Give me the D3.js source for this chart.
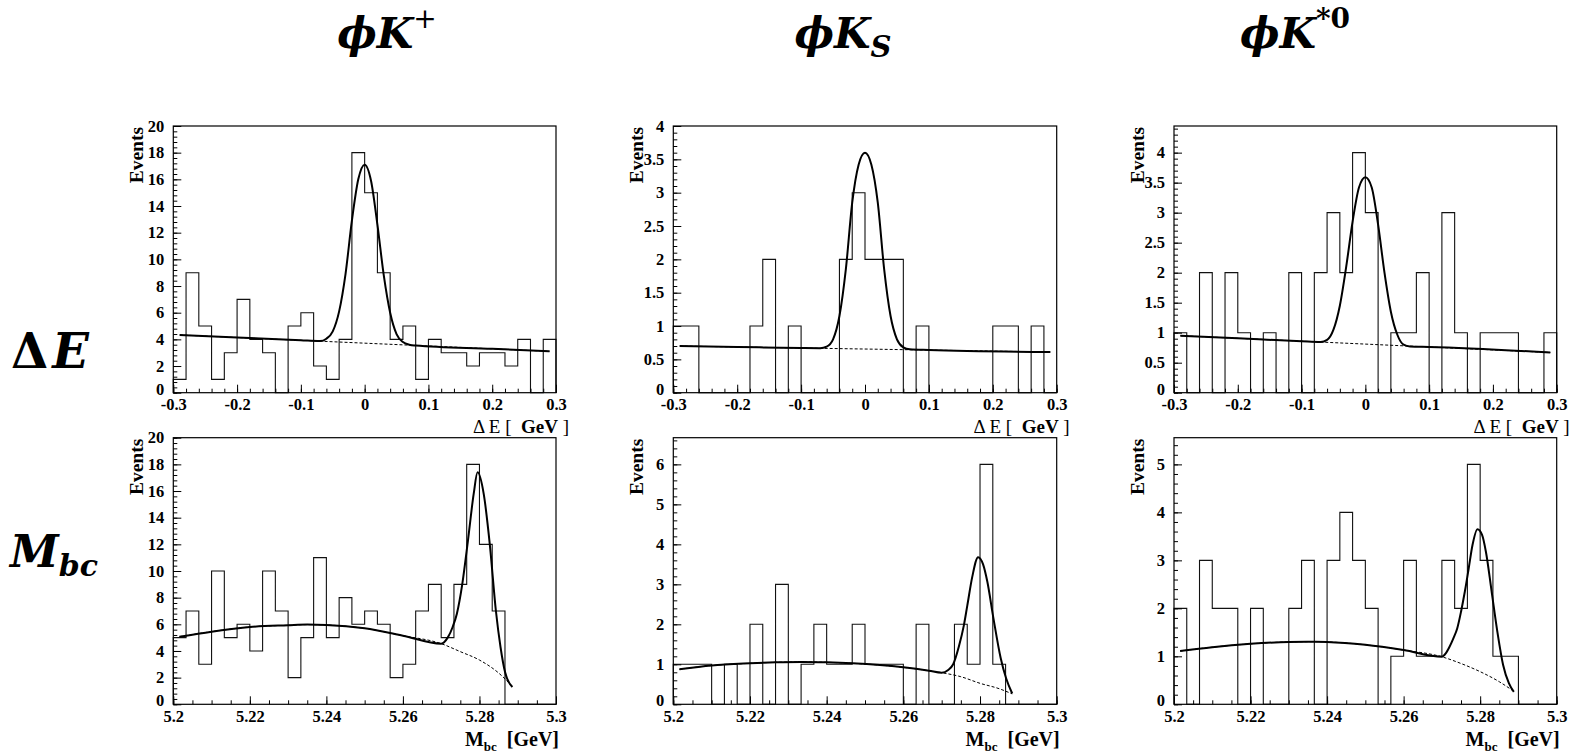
<!DOCTYPE html>
<html><head><meta charset="utf-8">
<script src="https://cdn.jsdelivr.net/npm/d3@7"></script>
<style>
body{margin:0;background:#fff;}
svg{display:block;}
text{font-family:"Liberation Serif","Times New Roman",serif;}
text.math{font-family:"DejaVu Serif",serif;}
</style></head><body>
<svg id="c" width="1585" height="755"></svg>
<script>
// ---------------- data ----------------
const deTicks  = [-0.3,-0.2,-0.1,0,0.1,0.2,0.3];
const mbcTicks = [5.2,5.22,5.24,5.26,5.28,5.3];
const deRange  = [-0.3,0.3];
const mbcRange = [5.2,5.3];
const nBins = 30;

// histogram contents (30 bins each)
const kpDeCounts   = [1,9,5,1,3,7,4,3,0,5,6,2,1,4,18,15,9,4,5,1,4,3,3,2,3,3,2,4,0,4];
const ksDeCounts   = [1,1,0,0,0,0,1,2,0,1,0,0,0,2,3,2,2,2,0,1,0,0,0,0,0,1,1,0,1,0];
const kstDeCounts  = [1,0,2,0,2,1,0,1,0,2,0,2,3,2,4,3,0,1,1,2,0,3,1,0,1,1,1,0,0,1];
const kpMbcCounts  = [5,7,3,10,5,6,4,10,7,2,5,11,5,8,6,7,6,2,3,7,9,5,9,18,12,7,0,0,0,0];
const ksMbcCounts  = [1,1,1,0,1,0,2,0,3,0,1,2,1,1,2,1,1,1,0,2,0,0,2,1,6,1,0,0,0,0];
const kstMbcCounts = [2,0,3,2,2,0,2,0,0,2,3,0,3,4,3,2,0,1,3,1,1,3,2,5,3,1,1,0,0,0];

// y-axis maxima and labelled ticks
const yMaxes = [20, 4, 4.444, 20, 6.667, 5.556];
const kpDeYTicks   = [0,2,4,6,8,10,12,14,16,18,20];
const ksDeYTicks   = [0,0.5,1,1.5,2,2.5,3,3.5,4];
const kstDeYTicks  = [0,0.5,1,1.5,2,2.5,3,3.5,4];
const kpMbcYTicks  = [0,2,4,6,8,10,12,14,16,18,20];
const ksMbcYTicks  = [0,1,2,3,4,5,6];
const kstMbcYTicks = [0,1,2,3,4,5];

// fitted curves: total (solid) and background (dashed)
const kpDeFit = [[-0.29,4.33],[-0.2,4.14],[-0.1,3.93],[-0.07,3.87],[-0.06,4.05],[-0.05,4.6],[-0.04,6.1],[-0.03,8.9],[-0.02,12.9],[-0.01,16.0],[0,17.1],[0.01,15.9],[0.02,12.6],[0.03,8.8],[0.04,6.0],[0.05,4.4],[0.06,3.8],[0.07,3.6],[0.08,3.54],[0.2,3.29],[0.29,3.1]];
const kpDeBkg = [[-0.29,4.33],[0.29,3.1]];
const ksDeFit = [[-0.29,0.70],[-0.2,0.686],[-0.1,0.67],[-0.07,0.668],[-0.06,0.69],[-0.05,0.8],[-0.04,1.15],[-0.03,1.85],[-0.02,2.85],[-0.01,3.42],[0,3.6],[0.01,3.42],[0.02,2.85],[0.03,1.85],[0.04,1.15],[0.05,0.8],[0.06,0.68],[0.07,0.65],[0.1,0.64],[0.29,0.61]];
const ksDeBkg = [[-0.29,0.70],[0.29,0.61]];
const kstDeFit = [[-0.29,0.95],[-0.2,0.906],[-0.1,0.858],[-0.07,0.845],[-0.06,0.88],[-0.05,1.05],[-0.04,1.45],[-0.03,2.1],[-0.02,2.85],[-0.01,3.42],[0,3.59],[0.01,3.42],[0.02,2.8],[0.03,2.0],[0.04,1.35],[0.05,0.97],[0.06,0.8],[0.07,0.77],[0.1,0.762],[0.29,0.67]];
const kstDeBkg = [[-0.29,0.95],[0.29,0.67]];

const kpMbcFit = [[5.2016,5.07],[5.21,5.45],[5.22,5.8],[5.23,5.93],[5.235,5.98],[5.24,5.95],[5.25,5.7],[5.26,5.15],[5.27,4.55],[5.2717,5.0],[5.273,5.8],[5.2741,6.8],[5.2755,9.0],[5.277,12.3],[5.2785,15.8],[5.2795,17.4],[5.2811,15.8],[5.2827,12.0],[5.2843,7.0],[5.2855,4.3],[5.2867,2.4],[5.2886,1.3]];
const kpMbcBkg = [[5.2016,5.07],[5.21,5.45],[5.22,5.8],[5.23,5.93],[5.235,5.98],[5.24,5.95],[5.25,5.7],[5.26,5.15],[5.27,4.55],[5.275,3.95],[5.28,3.32],[5.285,2.35],[5.2867,1.9],[5.2886,1.3]];
const ksMbcFit = [[5.2016,0.875],[5.21,0.97],[5.22,1.025],[5.2267,1.05],[5.2333,1.06],[5.24,1.05],[5.2467,1.025],[5.26,0.925],[5.2667,0.84],[5.27,0.79],[5.2717,0.86],[5.273,1.0],[5.2745,1.45],[5.2758,1.98],[5.2767,2.48],[5.278,3.2],[5.2795,3.68],[5.2808,3.5],[5.2819,3.07],[5.2835,2.15],[5.2854,1.15],[5.2868,0.65],[5.2884,0.27]];
const ksMbcBkg = [[5.2016,0.875],[5.21,0.97],[5.22,1.025],[5.2267,1.05],[5.2333,1.06],[5.24,1.05],[5.2467,1.025],[5.26,0.925],[5.2667,0.84],[5.27,0.79],[5.275,0.69],[5.28,0.525],[5.285,0.39],[5.2884,0.26]];
const kstMbcFit = [[5.2016,1.11],[5.21,1.19],[5.22,1.26],[5.23,1.30],[5.237,1.305],[5.24,1.30],[5.25,1.24],[5.26,1.13],[5.27,0.99],[5.271,1.06],[5.272,1.2],[5.273,1.375],[5.274,1.58],[5.275,1.93],[5.276,2.35],[5.277,2.83],[5.278,3.32],[5.2793,3.65],[5.2805,3.53],[5.2815,3.18],[5.283,2.35],[5.2845,1.51],[5.286,0.82],[5.2875,0.44],[5.2888,0.26]];
const kstMbcBkg = [[5.2016,1.11],[5.21,1.19],[5.22,1.26],[5.23,1.30],[5.237,1.305],[5.24,1.30],[5.25,1.24],[5.26,1.13],[5.27,0.99],[5.275,0.85],[5.28,0.68],[5.285,0.47],[5.2888,0.27]];

// ---------------- layout ----------------
const svg = d3.select("#c");
const cols = [{l:173.3,r:556},{l:673.3,r:1056.7},{l:1174,r:1556.7}];
const rows = [{t:126,b:392.7},{t:437.7,b:704.3}];

const panels = [
  {row:0,col:0,counts:kpDeCounts, fit:kpDeFit, bkg:kpDeBkg, yMax:yMaxes[0], yTicks:kpDeYTicks, minorY:0.4},
  {row:0,col:1,counts:ksDeCounts, fit:ksDeFit, bkg:ksDeBkg, yMax:yMaxes[1], yTicks:ksDeYTicks, minorY:0.1},
  {row:0,col:2,counts:kstDeCounts,fit:kstDeFit,bkg:kstDeBkg,yMax:yMaxes[2], yTicks:kstDeYTicks,minorY:0.1},
  {row:1,col:0,counts:kpMbcCounts, fit:kpMbcFit, bkg:kpMbcBkg, yMax:yMaxes[3], yTicks:kpMbcYTicks, minorY:0.4},
  {row:1,col:1,counts:ksMbcCounts, fit:ksMbcFit, bkg:ksMbcBkg, yMax:yMaxes[4], yTicks:ksMbcYTicks, minorY:0.2},
  {row:1,col:2,counts:kstMbcCounts,fit:kstMbcFit,bkg:kstMbcBkg,yMax:yMaxes[5], yTicks:kstMbcYTicks,minorY:0.2}
];

const fmt = d => String(+d.toFixed(3));
const serif = "'Liberation Serif','Times New Roman',serif";

panels.forEach(p => {
  const c = cols[p.col], r = rows[p.row];
  const isDE = p.row === 0;
  const xr = isDE ? deRange : mbcRange;
  const x = d3.scaleLinear().domain(xr).range([c.l, c.r]);
  const y = d3.scaleLinear().domain([0, p.yMax]).range([r.b, r.t]);
  const g = svg.append("g");

  // histogram outline
  const w = (xr[1]-xr[0])/nBins;
  const pts = [[xr[0],0]];
  p.counts.forEach((v,i) => { pts.push([xr[0]+i*w, v]); pts.push([xr[0]+(i+1)*w, v]); });
  pts.push([xr[1],0]);
  g.append("path").attr("d", d3.line().x(d=>x(d[0])).y(d=>y(d[1]))(pts))
    .attr("fill","none").attr("stroke","#111").attr("stroke-width",1.1);

  const line = d3.line().x(d=>x(d[0])).y(d=>y(d[1])).curve(d3.curveMonotoneX);
  g.append("path").attr("d", line(p.bkg)).attr("fill","none")
    .attr("stroke","#000").attr("stroke-width",1).attr("stroke-dasharray","3,2");
  g.append("path").attr("d", line(p.fit)).attr("fill","none")
    .attr("stroke","#000").attr("stroke-width",2);

  // axes
  const xTicks = isDE ? deTicks : mbcTicks;
  const xMinorStep = isDE ? 0.02 : 0.005;
  const xMinor = d3.range(xr[0], xr[1]+1e-9, xMinorStep);
  const axStyle = sel => {
    sel.attr("font-family", serif);
    sel.select(".domain").remove();
    sel.selectAll("line").attr("stroke","#000");
    sel.selectAll("text").style("font-family", serif)
      .attr("font-weight","bold").attr("font-size",16.5).attr("fill","#000");
  };
  g.append("g").attr("transform",`translate(0,${r.b})`)
    .call(d3.axisBottom(x).tickValues(xMinor).tickSizeInner(-4).tickSizeOuter(0).tickFormat(""))
    .call(axStyle);
  g.append("g").attr("transform",`translate(0,${r.b})`)
    .call(d3.axisBottom(x).tickValues(xTicks).tickSizeInner(-8).tickSizeOuter(0).tickPadding(6).tickFormat(fmt))
    .call(axStyle);
  const yMinor = d3.range(0, p.yMax+1e-9, p.minorY);
  g.append("g").attr("transform",`translate(${c.l},0)`)
    .call(d3.axisLeft(y).tickValues(yMinor).tickSizeInner(-4).tickSizeOuter(0).tickFormat(""))
    .call(axStyle);
  const ya = g.append("g").attr("transform",`translate(${c.l},0)`)
    .call(d3.axisLeft(y).tickValues(p.yTicks).tickSizeInner(-8).tickSizeOuter(0).tickPadding(9).tickFormat(fmt))
    .call(axStyle);
  // ROOT draws the zero label slightly raised
  ya.selectAll(".tick text").filter(d => d === 0).attr("dy","0.1em");

  // frame
  g.append("rect").attr("x",c.l).attr("y",r.t).attr("width",c.r-c.l).attr("height",r.b-r.t)
    .attr("fill","none").attr("stroke","#000").attr("stroke-width",1.2);

  // y title
  g.append("text").attr("transform",`translate(${c.l-30},${r.t+1}) rotate(-90)`)
    .attr("text-anchor","end").attr("font-weight","bold").attr("font-size",19.5).text("Events");

  // x title
  if (isDE) {
    const t = g.append("text").attr("x", c.r+13).attr("y", r.b+40).attr("text-anchor","end")
      .attr("font-size",19).style("white-space","pre");
    t.append("tspan").text("Δ E [  ");
    t.append("tspan").attr("font-weight","bold").text("GeV");
    t.append("tspan").text(" ]");
  } else {
    const t = g.append("text").attr("x", c.r+3).attr("y", r.b+41.5).attr("text-anchor","end")
      .attr("font-size",20).attr("font-weight","bold").style("white-space","pre");
    t.append("tspan").text("M");
    t.append("tspan").attr("font-size",13).attr("dy",5).text("bc");
    t.append("tspan").attr("dy",-5).text("  [GeV]");
  }
});

// column titles
const titles = [
  {cx:387, main:"K", sup:"+", sub:null},
  {cx:843, main:"K", sup:null, sub:"S"},
  {cx:1295, main:"K", sup:"*0", sub:null}
];
titles.forEach(tt => {
  const t = svg.append("text").attr("class","math").attr("x", tt.cx).attr("y", 48).attr("text-anchor","middle")
    .attr("font-size",42).attr("font-weight","bold").attr("font-style","italic");
  t.append("tspan").text("ϕ");
  t.append("tspan").text(tt.main);
  if (tt.sup) t.append("tspan").attr("font-size",28).attr("dy",-20).attr("font-style","normal").attr("font-weight", tt.sup==="+"?"normal":"bold").text(tt.sup);
  if (tt.sub) t.append("tspan").attr("font-size",29).attr("dy",9).text(tt.sub);
});

// row labels
const rl1 = svg.append("text").attr("class","math").attr("x",11).attr("y",368).attr("font-size",48)
  .attr("font-weight","bold").attr("letter-spacing",4);
rl1.append("tspan").text("Δ");
rl1.append("tspan").attr("font-style","italic").text("E");
const rl2 = svg.append("text").attr("class","math").attr("x",10).attr("y",567).attr("font-size",44).attr("font-weight","bold").attr("font-style","italic");
rl2.append("tspan").text("M");
rl2.append("tspan").attr("font-size",30).attr("dy",9).text("bc");
</script>
</body></html>
